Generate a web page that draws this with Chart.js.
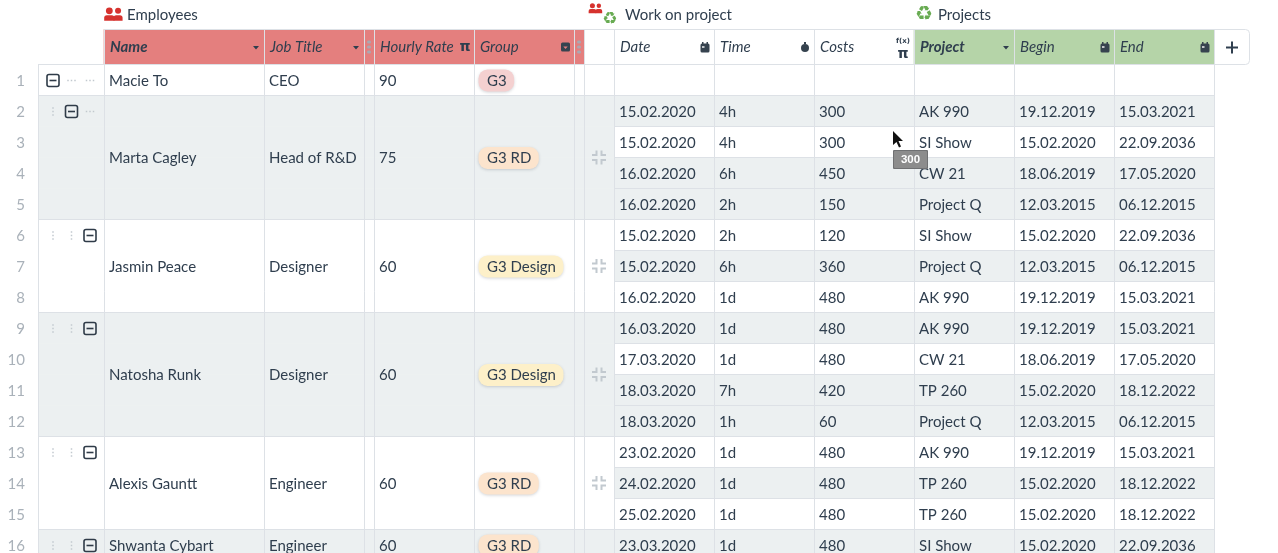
<!DOCTYPE html>
<html lang="en">
<head>
<meta charset="UTF-8">
<title>Employees and projects</title>
<script src="https://cdn.jsdelivr.net/npm/chart.js"></script>
<style>
  html, body { margin: 0; padding: 0; background: #fff; overflow: hidden; }
  canvas { display: block; }
</style>
</head>
<body>
<canvas id="sheet" width="1278" height="553"></canvas>
<script>
// Employee rows (merged cells)
const names = ['Macie To', 'Marta Cagley', 'Jasmin Peace', 'Natosha Runk', 'Alexis Gauntt', 'Shwanta Cybart'];
const jobTitles = ['CEO', 'Head of R&D', 'Designer', 'Designer', 'Engineer', 'Engineer'];
const hourlyRates = [90, 75, 60, 60, 60, 60];
const groups = ['G3', 'G3 RD', 'G3 Design', 'G3 Design', 'G3 RD', 'G3 RD'];
const firstRows = [1, 2, 6, 9, 13, 16];
const rowSpans = [1, 4, 3, 4, 3, 1];

// Work on project rows, starting at sheet row 2
const dates = ['15.02.2020', '15.02.2020', '16.02.2020', '16.02.2020', '15.02.2020', '15.02.2020', '16.02.2020', '16.03.2020', '17.03.2020', '18.03.2020', '18.03.2020', '23.02.2020', '24.02.2020', '25.02.2020', '23.03.2020'];
const times = ['4h', '4h', '6h', '2h', '2h', '6h', '1d', '1d', '1d', '7h', '1h', '1d', '1d', '1d', '1d'];
const costs = [300, 300, 450, 150, 120, 360, 480, 480, 480, 420, 60, 480, 480, 480, 480];
const projects = ['AK 990', 'SI Show', 'CW 21', 'Project Q', 'SI Show', 'Project Q', 'AK 990', 'AK 990', 'CW 21', 'TP 260', 'Project Q', 'AK 990', 'TP 260', 'TP 260', 'SI Show'];
const begins = ['19.12.2019', '15.02.2020', '18.06.2019', '12.03.2015', '15.02.2020', '12.03.2015', '19.12.2019', '19.12.2019', '18.06.2019', '15.02.2020', '12.03.2015', '19.12.2019', '15.02.2020', '15.02.2020', '15.02.2020'];
const ends = ['15.03.2021', '22.09.2036', '17.05.2020', '06.12.2015', '22.09.2036', '06.12.2015', '15.03.2021', '15.03.2021', '17.05.2020', '18.12.2022', '06.12.2015', '15.03.2021', '18.12.2022', '18.12.2022', '22.09.2036'];
const shadedProjectRows = [2, 4, 5, 7, 9, 11, 12, 14, 16];

// Row numbers and titles
const rowNumbers = [1, 2, 3, 4, 5, 6, 7, 8, 9, 10, 11, 12, 13, 14, 15, 16];
const headerLabels = ['Name', 'Job Title', 'Hourly Rate', 'Group', 'Date', 'Time', 'Costs', 'Project', 'Begin', 'End'];
const sectionTitles = ['Employees', 'Work on project', 'Projects'];
const tooltipValue = '300';

// Sheet layout
const COL = { left: 38, name: 104, title: 264, gapA: 364, rate: 374, group: 474, gapB: 574, fold: 584, date: 614, time: 714, cost: 814, project: 914, begin: 1014, end: 1114, right: 1214, add: 1249 };
const headerCols = [COL.name, COL.title, COL.rate, COL.group, COL.date, COL.time, COL.cost, COL.project, COL.begin, COL.end];
const ROW_H = 31, HEADER_H = 35, TABLE_TOP = 64.5, SHEET_H = 553;
const TEXT_DROP = 1; // cell text sits a little below the row centre
const INK = '#2f3e4e', LINE = '#dde1e6', SHADE = '#ecf0f1', FAINT = '#c2c9cf';
const RED = '#e47f7e', GREEN = '#b5d4a8', PEOPLE = '#d6322e', RECYCLE = '#68ab52';
const pillColors = { 'G3': '#f4d0d0', 'G3 RD': '#fce4cd', 'G3 Design': '#fdf0c9' };

const groupBand = [], groupShade = [], projectBand = [], projectShade = [];
firstRows.forEach((first, i) => {
  for (let r = first; r < first + rowSpans[i]; r++) {
    groupBand.push({ x: [COL.left, COL.date], y: r - 0.5 });
    groupShade.push(i % 2 === 1 ? SHADE : '#ffffff');
  }
});
rowNumbers.forEach(r => {
  projectBand.push({ x: [COL.date, COL.right], y: r - 0.5 });
  projectShade.push(shadedProjectRows.includes(r) ? SHADE : '#ffffff');
});

// Draws the grid, texts and icons on top of the bars
const sheetPlugin = {
  id: 'sheet',
  afterDatasetsDraw(chart) {
    const ctx = chart.ctx;
    const X = v => chart.scales.x.getPixelForValue(v);
    const Y = v => chart.scales.y.getPixelForValue(v);
    const headTop = Y(-HEADER_H / ROW_H), headMid = Y(-HEADER_H / ROW_H / 2);

    function line(x1, y1, x2, y2, color, w) {
      ctx.strokeStyle = color || LINE;
      ctx.lineWidth = w || 1;
      ctx.beginPath();
      ctx.moveTo(x1, y1);
      ctx.lineTo(x2, y2);
      ctx.stroke();
    }
    function text(str, x, y, font, color, align) {
      ctx.font = font;
      ctx.fillStyle = color || INK;
      ctx.textAlign = align || 'left';
      ctx.textBaseline = 'middle';
      ctx.fillText(str, x, y);
    }
    function box(x, y, w, h, r, color) {
      ctx.fillStyle = color;
      ctx.beginPath();
      ctx.roundRect(x, y, w, h, r);
      ctx.fill();
    }
    function triangle(x, y, w, color) {
      ctx.fillStyle = color;
      ctx.beginPath();
      ctx.moveTo(x - w, y - w / 2);
      ctx.lineTo(x + w, y - w / 2);
      ctx.lineTo(x, y + w / 2 + 0.5);
      ctx.fill();
    }
    function minusBox(x, y) {
      ctx.strokeStyle = '#2f3b48';
      ctx.lineWidth = 1.6;
      ctx.beginPath();
      ctx.roundRect(x - 6, y - 6, 12, 12, 2);
      ctx.stroke();
      line(x - 3.5, y, x + 3.5, y, '#2f3b48', 1.6);
    }
    function dots(x, y, vertical) {
      ctx.fillStyle = FAINT;
      [-3.5, 0, 3.5].forEach(d => {
        ctx.fillRect(vertical ? x - 0.75 : x + d - 0.75, vertical ? y + d - 0.75 : y - 0.75, 1.5, 1.5);
      });
    }
    function calendar(x, y) {
      box(x - 4.5, y - 4, 9, 9, 1.5, '#36434f');
      ctx.fillStyle = '#36434f';
      ctx.fillRect(x - 3, y - 5.5, 1.5, 2);
      ctx.fillRect(x + 1.5, y - 5.5, 1.5, 2);
      ctx.fillStyle = '#ffffff';
      ctx.globalAlpha = 0.7;
      ctx.fillRect(x - 3, y - 1.5, 2.5, 2);
      ctx.globalAlpha = 1;
    }
    function people(x, y, s) {
      ctx.fillStyle = PEOPLE;
      [[0.28, 1], [0.74, 0.88]].forEach(p => {
        const cx = x + p[0] * s;
        ctx.beginPath();
        ctx.arc(cx, y + 0.2 * s, 0.18 * s * p[1], 0, Math.PI * 2);
        ctx.fill();
        ctx.beginPath();
        ctx.roundRect(cx - 0.27 * s * p[1], y + 0.43 * s, 0.54 * s * p[1], 0.3 * s, [0.14 * s, 0.14 * s, 0, 0]);
        ctx.fill();
      });
    }
    function compress(x, y) {
      ctx.strokeStyle = FAINT;
      ctx.lineWidth = 2;
      [[-1, -1], [1, -1], [-1, 1], [1, 1]].forEach(c => {
        ctx.beginPath();
        ctx.moveTo(x + c[0] * 7, y + c[1] * 2.5);
        ctx.lineTo(x + c[0] * 2.5, y + c[1] * 2.5);
        ctx.lineTo(x + c[0] * 2.5, y + c[1] * 7);
        ctx.stroke();
      });
    }

    // Grid lines
    rowNumbers.forEach(r => line(X(COL.date), Y(r), X(COL.right), Y(r)));
    firstRows.forEach((first, i) => {
      const bottom = Y(first + rowSpans[i] - 1);
      line(X(COL.left), bottom, X(COL.right), bottom);
    });
    line(X(COL.left), Y(0), X(COL.right), Y(0));
    line(X(COL.name), headTop, X(COL.add) - 5, headTop);
    [COL.name, COL.title, COL.gapA, COL.rate, COL.group, COL.gapB, COL.fold, COL.date, COL.time, COL.cost, COL.project, COL.begin, COL.end, COL.right].forEach(c => {
      line(X(c) + 0.5, headTop, X(c) + 0.5, SHEET_H);
    });
    line(X(COL.left) + 0.5, Y(0), X(COL.left) + 0.5, SHEET_H);

    // Add column button
    ctx.strokeStyle = LINE;
    ctx.lineWidth = 1;
    ctx.beginPath();
    ctx.roundRect(X(COL.right) + 0.5, headTop, X(COL.add) - X(COL.right), HEADER_H, [0, 4, 4, 0]);
    ctx.stroke();
    line(X(COL.add) - 23, headMid + 0.5, X(COL.add) - 11, headMid + 0.5, INK, 2);
    line(X(COL.add) - 17, headMid - 5.5, X(COL.add) - 17, headMid + 6.5, INK, 2);

    // Section titles
    people(X(COL.name), 7, 19);
    text(sectionTitles[0], X(COL.name) + 23, 15.5, '15px Lato');
    people(X(COL.fold) + 4.5, 3, 14);
    text('\u267B', X(COL.fold) + 26, 19.5, '17px "DejaVu Sans"', RECYCLE, 'center');
    text(sectionTitles[1], X(COL.date) + 11, 15.5, '15px Lato');
    text('\u267B', X(COL.project) + 10, 14.5, '20px "DejaVu Sans"', RECYCLE, 'center');
    text(sectionTitles[2], X(COL.project) + 24, 15.5, '15px Lato');

    // Column headers
    headerLabels.forEach((label, i) => {
      const strong = label === 'Name' || label === 'Project';
      text(label, X(headerCols[i]) + 6, headMid + 0.5, (strong ? 'italic 700 ' : 'italic ') + '15px Lato');
    });
    triangle(X(COL.title) - 8, headMid + 0.5, 3, INK);
    triangle(X(COL.gapA) - 8, headMid + 0.5, 3, INK);
    triangle(X(COL.begin) - 8, headMid + 0.5, 3, INK);
    text('\u03C0', X(COL.group) - 9, headMid, 'bold 14px "DejaVu Sans"', INK, 'center');
    box(X(COL.gapB) - 13, headMid - 4.5, 9, 9, 1.5, '#36434f');
    triangle(X(COL.gapB) - 8.5, headMid + 0.5, 2.2, RED);
    [X(COL.gapA) + 5, X(COL.gapB) + 5].forEach(x => {
      [-5, 0, 5].forEach(d => box(x - 2, headMid + d - 1.5, 4, 3, 1.5, '#a9a9b2'));
    });
    calendar(X(COL.time) - 9, headMid + 0.5);
    calendar(X(COL.end) - 9, headMid + 0.5);
    calendar(X(COL.right) - 9, headMid + 0.5);
    ctx.fillStyle = '#36434f';
    ctx.beginPath();
    ctx.arc(X(COL.cost) - 9, headMid + 1, 4, 0, Math.PI * 2);
    ctx.fill();
    ctx.fillRect(X(COL.cost) - 10, headMid - 5, 2, 2);
    text('f(x)', X(COL.project) - 11, headMid - 6, 'bold 7px "DejaVu Sans"', INK, 'center');
    text('\u03C0', X(COL.project) - 11, headMid + 7, 'bold 14px "DejaVu Sans"', INK, 'center');

    // Merged employee cells
    firstRows.forEach((first, i) => {
      const mid = Y(first - 1 + rowSpans[i] / 2) + TEXT_DROP;
      const top = Y(first - 0.5) + TEXT_DROP / 2;
      text(names[i], X(COL.name) + 5, mid, '15px Lato');
      text(jobTitles[i], X(COL.title) + 5, mid, '15px Lato');
      text(String(hourlyRates[i]), X(COL.rate) + 5, mid, '15px Lato');

      ctx.font = '15px Lato';
      const w = ctx.measureText(groups[i]).width + 16;
      ctx.save();
      ctx.shadowColor = 'rgba(60,70,80,0.22)';
      ctx.shadowBlur = 3;
      ctx.shadowOffsetY = 1;
      box(X(COL.group) + 4.5, mid - 11.5, w, 22, 9, pillColors[groups[i]]);
      ctx.restore();
      text(groups[i], X(COL.group) + 13, mid, '15px Lato');

      // Tree controls depend on the nesting of the row
      const level = i === 0 ? 0 : (i === 1 ? 1 : 2);
      [53, 71.5, 90].forEach((cx, k) => {
        if (k === level) minusBox(X(cx), top);
        else if (k < level) dots(X(cx), top, true);
        else dots(X(cx), top, false);
      });
      if (rowSpans[i] > 1) compress(X(COL.fold) + 15, mid - 1);
    });

    // Project rows
    dates.forEach((d, i) => {
      const y = Y(i + 1.5) + TEXT_DROP;
      text(d, X(COL.date) + 5, y, '15px Lato');
      text(times[i], X(COL.time) + 5, y, '15px Lato');
      text(String(costs[i]), X(COL.cost) + 5, y, '15px Lato');
      text(projects[i], X(COL.project) + 5, y, '15px Lato');
      text(begins[i], X(COL.begin) + 5, y, '15px Lato');
      text(ends[i], X(COL.end) + 5, y, '15px Lato');
    });

    // Hover tooltip and mouse pointer over the second costs cell
    const tipX = X(COL.project) - 21, tipY = Y(2.5) + 8;
    box(tipX, tipY, 35, 19, 1, '#6f7072');
    box(tipX + 1, tipY + 1, 33, 17, 1, '#8c8c8c');
    text(tooltipValue, tipX + 17.5, tipY + 10, 'bold 11.5px "Liberation Sans"', '#ffffff', 'center');
    const px = tipX, py = tipY - 19;
    ctx.beginPath();
    ctx.moveTo(px, py);
    ctx.lineTo(px, py + 14);
    ctx.lineTo(px + 3.5, py + 11);
    ctx.lineTo(px + 6, py + 16.5);
    ctx.lineTo(px + 8, py + 15.5);
    ctx.lineTo(px + 5.5, py + 10);
    ctx.lineTo(px + 10, py + 10);
    ctx.closePath();
    ctx.fillStyle = '#111111';
    ctx.strokeStyle = '#ffffff';
    ctx.lineWidth = 1;
    ctx.stroke();
    ctx.fill();
  }
};

new Chart(document.getElementById('sheet'), {
  type: 'bar',
  plugins: [sheetPlugin],
  data: {
    datasets: [
      { data: groupBand, backgroundColor: groupShade, barThickness: ROW_H, grouped: false, borderWidth: 0 },
      { data: projectBand, backgroundColor: projectShade, barThickness: ROW_H, grouped: false, borderWidth: 0 },
      {
        data: [
          { x: [COL.name, COL.fold], y: -HEADER_H / ROW_H / 2 },
          { x: [COL.project, COL.right], y: -HEADER_H / ROW_H / 2 }
        ],
        backgroundColor: [RED, GREEN],
        barThickness: HEADER_H,
        grouped: false,
        borderWidth: 0
      }
    ]
  },
  options: {
    indexAxis: 'y',
    responsive: false,
    animation: false,
    layout: { padding: 0 },
    plugins: { legend: { display: false }, tooltip: { enabled: false } },
    scales: {
      x: { type: 'linear', display: false, min: COL.left, max: 1278 },
      y: {
        type: 'linear',
        offset: false,
        reverse: true,
        min: -TABLE_TOP / ROW_H,
        max: (SHEET_H - TABLE_TOP) / ROW_H,
        afterBuildTicks: scale => { scale.ticks = rowNumbers.map(r => ({ value: r - 0.5 + TEXT_DROP / ROW_H })); },
        afterFit: scale => { scale.width = COL.left; scale.paddingTop = 0; scale.paddingBottom = 0; },
        grid: { display: false },
        border: { display: false },
        ticks: {
          autoSkip: false,
          padding: 5,
          color: '#a9b1b9',
          font: { family: 'Lato', size: 15 },
          callback: value => String(Math.round(value + 0.5))
        }
      }
    }
  }
});
</script>
</body>
</html>
